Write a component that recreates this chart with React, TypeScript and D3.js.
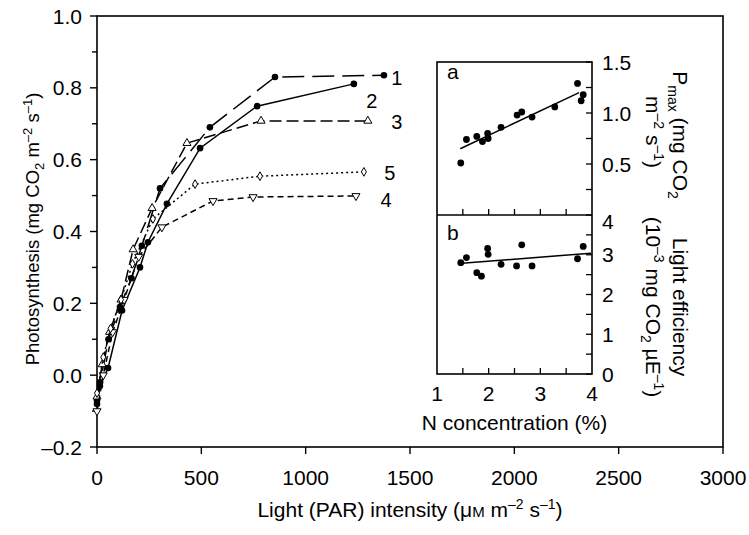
import React from "react";
import * as d3 from "d3";

// Main chart data: PAR (µM m-2 s-1) vs photosynthesis (mg CO2 m-2 s-1)
const seriesNames = ["1", "2", "3", "4", "5"];
const s1PAR = [0, 15, 55, 110, 165, 215, 302, 541, 853, 1375];
const s1P = [-0.07, -0.02, 0.1, 0.19, 0.27, 0.36, 0.52, 0.69, 0.83, 0.835];
const s2PAR = [0, 14, 53, 120, 206, 244, 335, 494, 767, 1231];
const s2P = [-0.08, -0.03, 0.02, 0.18, 0.3, 0.37, 0.477, 0.632, 0.749, 0.811];
const s3PAR = [0, 25, 60, 115, 173, 264, 431, 786, 1298];
const s3P = [-0.06, 0.03, 0.12, 0.21, 0.35, 0.465, 0.646, 0.708, 0.708];
const s4PAR = [0, 30, 75, 130, 200, 311, 556, 748, 1241];
const s4P = [-0.1, 0.0, 0.12, 0.21, 0.33, 0.412, 0.485, 0.496, 0.499];
const s5PAR = [0, 30, 65, 115, 170, 268, 470, 781, 1279];
const s5P = [-0.05, 0.05, 0.13, 0.21, 0.31, 0.435, 0.532, 0.554, 0.566];

const xTicks = [0, 500, 1000, 1500, 2000, 2500, 3000];
const yTicks = [-0.2, 0, 0.2, 0.4, 0.6, 0.8, 1.0];
const yMinorTicks = [-0.1, 0.1, 0.3, 0.5, 0.7, 0.9];

// Inset data: N concentration (%) vs Pmax and light efficiency
const nConcA = [1.46, 1.57, 1.77, 1.88, 1.98, 1.99, 2.24, 2.55, 2.64, 2.84, 3.28, 3.72, 3.83, 3.79];
const pmaxA = [0.51, 0.74, 0.77, 0.72, 0.8, 0.75, 0.86, 0.98, 1.01, 0.96, 1.06, 1.29, 1.18, 1.12];
const fitAN = [1.45, 3.75];
const fitAP = [0.65, 1.2];
const nConcB = [1.46, 1.57, 1.77, 1.86, 1.98, 1.99, 2.24, 2.54, 2.64, 2.84, 3.72, 3.83];
const leB = [2.8, 2.93, 2.55, 2.46, 3.16, 3.01, 2.76, 2.72, 3.25, 2.72, 2.9, 3.21];
const fitBN = [1.42, 3.98];
const fitBL = [2.78, 3.04];
const insetXTicks = [1, 2, 3, 4];
const insetXMinor = [1.5, 2.5, 3.5];
const aTicks = [0.5, 1.0, 1.5];
const aMinor = [0.25, 0.75, 1.25];
const bTicks = [0, 1, 2, 3, 4];
const bMinor = [0.5, 1.5, 2.5, 3.5];

const FONT = "'Liberation Sans', Arial, sans-serif";

export default function App() {
  const x = d3.scaleLinear().domain([0, 3000]).range([97, 723]);
  const y = d3.scaleLinear().domain([-0.2, 1.0]).range([447, 16]);

  const nx = d3.scaleLinear().domain([1, 4]).range([437, 592]);
  const ay = d3.scaleLinear().domain([0, 1.5]).range([215, 62]);
  const by = d3.scaleLinear().domain([0, 4]).range([374, 215]);

  const pars = [s1PAR, s2PAR, s3PAR, s4PAR, s5PAR];
  const ps = [s1P, s2P, s3P, s4P, s5P];
  const dashes = ["22 8", "", "12 5", "6 4", "2 3"];
  const markers = ["circle", "circle", "tri", "tridown", "diamond"];
  const labelOff = [
    [13, 10],
    [18, 24],
    [29, 8],
    [30, 11],
    [26, 8],
  ];

  const line = d3
    .line<[number, number]>()
    .x((d) => x(d[0]))
    .y((d) => y(d[1]));

  const triUp = d3.symbol().type(d3.symbolTriangle).size(28)() as string;
  const diamond = d3.symbol().type(d3.symbolDiamond).size(22)() as string;

  const marker = (kind: string, cx: number, cy: number, key: string) => {
    if (kind === "circle")
      return <circle key={key} cx={cx} cy={cy} r={3.3} fill="#000" />;
    if (kind === "tri")
      return (
        <path key={key} d={triUp} transform={`translate(${cx},${cy})`} fill="#fff" stroke="#000" strokeWidth={1} />
      );
    if (kind === "tridown")
      return (
        <path key={key} d={triUp} transform={`translate(${cx},${cy}) rotate(180)`} fill="#fff" stroke="#000" strokeWidth={1} />
      );
    return (
      <path key={key} d={diamond} transform={`translate(${cx},${cy})`} fill="#fff" stroke="#000" strokeWidth={1} />
    );
  };

  const fs = 21;
  const sub = 14;

  return (
    <svg
      width={749}
      height={535}
      style={{ position: "absolute", left: 0, top: 0, background: "#fff" }}
      fontFamily={FONT}
    >
      <rect x={0} y={0} width={749} height={535} fill="#fff" />
      {/* main frame */}
      <rect x={x(0)} y={y(1.0)} width={x(3000) - x(0)} height={y(-0.2) - y(1.0)} fill="none" stroke="#000" strokeWidth={1.6} />

      {/* x ticks */}
      {xTicks.map((t) => (
        <g key={"xt" + t}>
          <line x1={x(t)} x2={x(t)} y1={y(-0.2)} y2={y(-0.2) + 7} stroke="#000" strokeWidth={1.4} />
          <text x={x(t)} y={y(-0.2) + 38} textAnchor="middle" fontSize={fs}>
            {t}
          </text>
        </g>
      ))}
      {/* y ticks */}
      {yTicks.map((t) => (
        <g key={"yt" + t}>
          <line x1={x(0) - 7} x2={x(0)} y1={y(t)} y2={y(t)} stroke="#000" strokeWidth={1.4} />
          <text x={x(0) - 15} y={y(t) + 7.5} textAnchor="end" fontSize={fs}>
            {t < 0 ? "\u2013" + Math.abs(t).toFixed(1) : t.toFixed(1)}
          </text>
        </g>
      ))}
      {yMinorTicks.map((t) => (
        <line key={"ym" + t} x1={x(0) - 5} x2={x(0)} y1={y(t)} y2={y(t)} stroke="#000" strokeWidth={1.4} />
      ))}

      {/* axis titles */}
      <text x={410} y={517} textAnchor="middle" fontSize={fs}>
        Light (PAR) intensity (μ<tspan fontSize={15}>M</tspan> m
        <tspan fontSize={sub} dy={-8}>–2</tspan>
        <tspan dy={8}>  s</tspan>
        <tspan fontSize={sub} dy={-8}>–1</tspan>
        <tspan dy={8}>)</tspan>
      </text>
      <text transform="translate(39,229) rotate(-90)" textAnchor="middle" fontSize={18.5}>
        Photosynthesis (mg CO<tspan fontSize={13} dy={5}>2</tspan>
        <tspan dy={-5}> m</tspan>
        <tspan fontSize={13} dy={-7}>–2</tspan>
        <tspan dy={7}> s</tspan>
        <tspan fontSize={13} dy={-7}>–1</tspan>
        <tspan dy={7}>)</tspan>
      </text>

      {/* series */}
      {pars.map((pp, i) => {
        const pts = pp.map((v, j) => [v, ps[i][j]] as [number, number]);
        const last = pts[pts.length - 1];
        return (
          <g key={"s" + i}>
            <path d={line(pts) || ""} fill="none" stroke="#000" strokeWidth={1.5} strokeDasharray={dashes[i] || undefined} />
            {pts.map((p, j) => marker(markers[i], x(p[0]), y(p[1]), `m${i}-${j}`))}
            <text x={x(last[0]) + labelOff[i][0]} y={y(last[1]) + labelOff[i][1]} fontSize={20} textAnchor="middle">
              {seriesNames[i]}
            </text>
          </g>
        );
      })}

      {/* inset */}
      <rect x={nx(1)} y={ay(1.5)} width={nx(4) - nx(1)} height={by(0) - ay(1.5)} fill="#fff" stroke="#000" strokeWidth={1.6} />
      <line x1={nx(1)} x2={nx(4)} y1={by(4)} y2={by(4)} stroke="#000" strokeWidth={1.6} />
      {[...insetXTicks.slice(1, 3), ...insetXMinor].map((t) => (
        <g key={"ix" + t}>
          <line x1={nx(t)} x2={nx(t)} y1={by(0)} y2={by(0) - 6} stroke="#000" strokeWidth={1.3} />
          <line x1={nx(t)} x2={nx(t)} y1={ay(0)} y2={ay(0) - 6} stroke="#000" strokeWidth={1.3} />
        </g>
      ))}
      {insetXTicks.map((t) => (
        <text key={"ixl" + t} x={nx(t)} y={by(0) + 27} textAnchor="middle" fontSize={fs}>
          {t}
        </text>
      ))}
      <text x={(nx(1) + nx(4)) / 2} y={430} textAnchor="middle" fontSize={fs}>
        N concentration (%)
      </text>

      {/* panel a right ticks */}
      {[...aTicks, ...aMinor].map((t) => (
        <line key={"at" + t} x1={nx(4) - 6} x2={nx(4)} y1={ay(t)} y2={ay(t)} stroke="#000" strokeWidth={1.3} />
      ))}
      {aTicks.map((t) => (
        <text key={"atl" + t} x={nx(4) + 10} y={ay(t) + 7.5} fontSize={fs}>
          {t.toFixed(1)}
        </text>
      ))}
      {/* panel b right ticks */}
      {[...bTicks, ...bMinor].map((t) => (
        <line key={"bt" + t} x1={nx(4) - 6} x2={nx(4)} y1={by(t)} y2={by(t)} stroke="#000" strokeWidth={1.3} />
      ))}
      {bTicks.map((t) => (
        <text key={"btl" + t} x={nx(4) + 10} y={by(t) + (t === 4 ? 14 : 7.5)} fontSize={fs}>
          {t}
        </text>
      ))}

      <text x={nx(1) + 10} y={ay(1.5) + 17} fontSize={fs}>
        a
      </text>
      <text x={nx(1) + 10} y={by(4) + 25} fontSize={fs}>
        b
      </text>

      {/* panel a data */}
      <line x1={nx(fitAN[0])} x2={nx(fitAN[1])} y1={ay(fitAP[0])} y2={ay(fitAP[1])} stroke="#000" strokeWidth={1.5} />
      {nConcA.map((n, i) => (
        <circle key={"pa" + i} cx={nx(n)} cy={ay(pmaxA[i])} r={3.4} fill="#000" />
      ))}
      {/* panel b data */}
      <line x1={nx(fitBN[0])} x2={nx(fitBN[1])} y1={by(fitBL[0])} y2={by(fitBL[1])} stroke="#000" strokeWidth={1.5} />
      {nConcB.map((n, i) => (
        <circle key={"pb" + i} cx={nx(n)} cy={by(leB[i])} r={3.4} fill="#000" />
      ))}

      {/* right titles (rotated 90) */}
      <text transform="translate(673,135) rotate(90)" textAnchor="middle" fontSize={fs}>
        P<tspan fontSize={sub} dy={5}>max</tspan>
        <tspan dy={-5}> (mg CO</tspan>
        <tspan fontSize={sub} dy={5}>2</tspan>
      </text>
      <text transform="translate(646,132) rotate(90)" textAnchor="middle" fontSize={fs}>
        m<tspan fontSize={sub} dy={-8}>–2</tspan>
        <tspan dy={8}> s</tspan>
        <tspan fontSize={sub} dy={-8}>–1</tspan>
        <tspan dy={8}>)</tspan>
      </text>
      <text transform="translate(673,307) rotate(90)" textAnchor="middle" fontSize={fs}>
        Light efficiency
      </text>
      <text transform="translate(646,307) rotate(90)" textAnchor="middle" fontSize={fs}>
        (10<tspan fontSize={sub} dy={-8}>–3</tspan>
        <tspan dy={8}> mg CO</tspan>
        <tspan fontSize={sub} dy={5}>2</tspan>
        <tspan dy={-5}> µE</tspan>
        <tspan fontSize={sub} dy={-8}>–1</tspan>
        <tspan dy={8}>)</tspan>
      </text>
    </svg>
  );
}
